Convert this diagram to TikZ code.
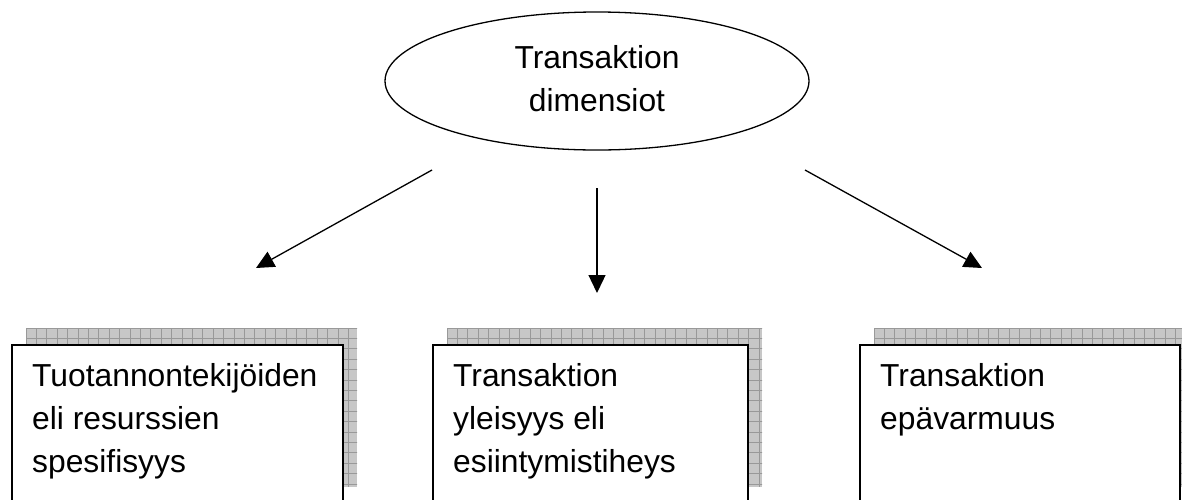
\documentclass[tikz,border=0pt]{standalone}
\usepackage{fontspec}
\setmainfont{Liberation Sans}
\usetikzlibrary{arrows.meta,shapes.geometric}
\begin{document}
\begin{tikzpicture}[x=1pt,y=-1pt,
  bigfont/.style={font=\fontsize{31.8}{43}\selectfont},
  txt/.style={bigfont, inner sep=0pt, align=left, anchor=north west},
  boxnode/.style={draw=black, line width=1.6pt, fill=white, anchor=north west,
    minimum width=#1, minimum height=159pt, inner sep=0pt},
  arr/.style={line width=1.3pt, -{Triangle[length=18pt,width=17pt]}},
  shadowfill/.style={fill=black!22},
  gridline/.style={draw=black!40, line width=0.7pt},
  ]
\clip (0,0) rectangle (1182,499);
\fill[white] (0,0) rectangle (1182,499);

% shadows
\foreach \a/\b in {11/342, 432/747, 859/1179}{
  \begin{scope}
    \clip (\a+15,328) rectangle (\b+15,487);
    \fill[shadowfill] (\a+15,328) rectangle (\b+15,487);
    \foreach \i in {0,...,34} \draw[gridline] (\a+15+\i*10.4,328) -- ++(0,159);
    \foreach \j in {0,...,16} \draw[gridline] (\a+15,328+\j*10.4) -- ++(340,0);
  \end{scope}
}

% boxes
\node[boxnode=331pt] (b1) at (11,344) {};
\node[boxnode=315pt] (b2) at (432,344) {};
\node[boxnode=320pt] (b3) at (859,344) {};

\node[txt] (t1) at (32,355.9) {\strut Tuotannontekijöiden\\\strut eli resurssien\\\strut spesifisyys};
\node[txt] (t2) at (453,355.9) {\strut Transaktion\\\strut yleisyys eli\\\strut esiintymistiheys};
\node[txt] (t3) at (880,355.9) {\strut Transaktion\\\strut epävarmuus};

% top ellipse
\node[ellipse, draw=black, line width=1.3pt, minimum width=424pt, minimum height=138pt,
  inner sep=0pt, bigfont, align=center] (top) at (597,81) {\strut Transaktion\\\strut dimensiot};

% arrows
\coordinate (l0) at (432,170);
\coordinate (l1) at (256,268);
\coordinate (m0) at (597,188);
\coordinate (m1) at (597,293);
\coordinate (r0) at (805,170);
\coordinate (r1) at (982,268);
\draw[arr] (l0) -- (l1);
\draw[arr] (m0) -- (m1);
\draw[arr] (r0) -- (r1);
\end{tikzpicture}
\end{document}
